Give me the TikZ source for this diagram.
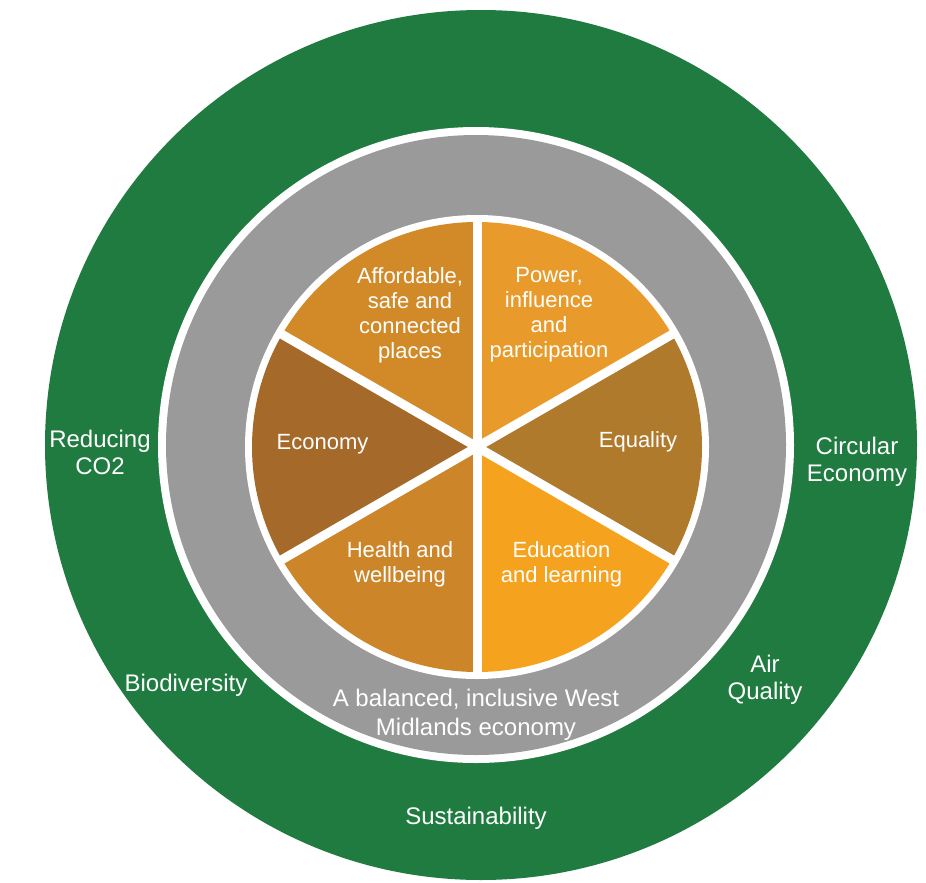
\documentclass[tikz,border=0pt]{standalone}
\usepackage{fontspec}
\setmainfont{Liberation Sans}
\definecolor{ringgreen}{HTML}{1F7B3F}
\definecolor{ringgray}{HTML}{9A9A9A}
\definecolor{cAfford}{HTML}{D28A28}
\definecolor{cPower}{HTML}{E89B2A}
\definecolor{cEqual}{HTML}{B07A2C}
\definecolor{cEduc}{HTML}{F5A21E}
\definecolor{cHealth}{HTML}{CD852A}
\definecolor{cEcon}{HTML}{A5692A}
\tikzset{
  outerlabel/.style={text=white, font=\fontsize{24}{27}\selectfont, align=center, inner sep=0pt},
  graylabel/.style={text=white, font=\fontsize{24}{29}\selectfont, align=center, inner sep=0pt},
  innerlabel/.style={text=white, font=\fontsize{22}{25}\selectfont, align=center, inner sep=0pt},
  divider/.style={white, line width=9pt},
}
\begin{document}
\begin{tikzpicture}[x=1pt,y=-1pt]
\path[use as bounding box, fill=white] (0,0) rectangle (926,883);
% rings
\fill[ringgreen] (481,445) ellipse [x radius=436, y radius=435];
\fill[white] (476,445) circle [radius=318];
\fill[ringgray] (476,445) circle [radius=310];
\fill[white] (477,447) circle [radius=232];
% pie
\begin{scope}[shift={(477,447)}, yscale=-1]
  \coordinate (pc) at (0,0);
  \fill[cAfford] (pc) -- (90:225) arc[start angle=90, end angle=150, radius=225] -- cycle;
  \fill[cEcon]   (pc) -- (150:225) arc[start angle=150, end angle=210, radius=225] -- cycle;
  \fill[cHealth] (pc) -- (210:225) arc[start angle=210, end angle=270, radius=225] -- cycle;
  \fill[cEduc]   (pc) -- (270:225) arc[start angle=270, end angle=330, radius=225] -- cycle;
  \fill[cEqual]  (pc) -- (330:225) arc[start angle=330, end angle=390, radius=225] -- cycle;
  \fill[cPower]  (pc) -- (30:225) arc[start angle=30, end angle=90, radius=225] -- cycle;
  \coordinate (d1a) at (90:228);  \coordinate (d1b) at (270:228);
  \coordinate (d2a) at (30:228);  \coordinate (d2b) at (210:228);
  \coordinate (d3a) at (150:228); \coordinate (d3b) at (330:228);
  \draw[divider] (d1a) -- (d1b);
  \draw[divider] (d2a) -- (d2b);
  \draw[divider] (d3a) -- (d3b);
\end{scope}
% pie labels
\node[innerlabel] (afford) at (410,315) {Affordable,\\safe and\\connected\\places};
\node[innerlabel] (power) at (549,315) {Power,\\influence\\and\\participation};
\node[innerlabel] (econ) at (322.5,444.4) {Economy};
\node[innerlabel] (equal) at (638,442.3) {Equality};
\node[innerlabel] (health) at (400,564.3) {Health and\\wellbeing};
\node[innerlabel] (educ) at (561.5,564.3) {Education\\and learning};
% gray ring label
\node[graylabel] (balanced) at (476,715) {A balanced, inclusive West\\Midlands economy};
% green ring labels
\node[outerlabel] (co2) at (100,452.3) {Reducing\\CO2};
\node[outerlabel] (circ) at (857,462) {Circular\\Economy};
\node[outerlabel] (air) at (765,680) {Air\\Quality};
\node[outerlabel] (bio) at (186,685) {Biodiversity};
\node[outerlabel] (sust) at (476,818.75) {Sustainability};
\end{tikzpicture}
\end{document}
